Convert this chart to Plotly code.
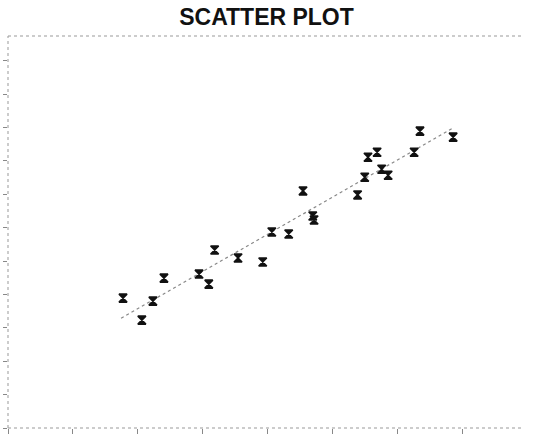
import numpy as np
import plotly.graph_objects as go

title_text = "SCATTER PLOT"
x_vals = [1.77, 2.06, 2.23, 2.40, 2.94, 3.09, 3.18, 3.54, 3.92, 4.06, 4.32, 4.54,
          4.69, 4.71, 5.38, 5.49, 5.54, 5.68, 5.75, 5.85, 6.25, 6.34, 6.85]
y_vals = [3.89, 3.23, 3.80, 4.49, 4.61, 4.31, 5.33, 5.09, 4.97, 5.87, 5.81, 7.10,
          6.35, 6.23, 6.98, 7.51, 8.11, 8.26, 7.75, 7.57, 8.26, 8.89, 8.71]
x_ticks = [0, 1, 2, 3, 4, 5, 6, 7]
y_ticks = list(range(0, 12))

slope, intercept = np.polyfit(x_vals, y_vals, 1)
fit_x = [min(x_vals) - 0.03, max(x_vals)]
fit_y = [slope * v + intercept for v in fit_x]

fig = go.Figure()
fig.add_trace(go.Scatter(x=fit_x, y=fit_y, mode="lines",
                         line=dict(color="#888888", width=1.2, dash="dot"),
                         showlegend=False, hoverinfo="skip"))
fig.add_trace(go.Scatter(x=x_vals, y=y_vals, mode="markers",
                         marker=dict(symbol="hourglass", size=8, color="#111111",
                                     line=dict(width=1.6, color="#111111")),
                         showlegend=False))

dot = dict(color="#999999", width=1, dash="dot")
fig.add_shape(type="line", xref="paper", yref="paper", x0=0, x1=1, y0=1, y1=1, line=dot)
fig.add_shape(type="line", xref="paper", yref="paper", x0=0, x1=1, y0=0, y1=0, line=dot)
fig.add_shape(type="line", xref="paper", yref="paper", x0=0, x1=0, y0=0, y1=1, line=dot)

fig.update_layout(
    width=533, height=437,
    margin=dict(l=8, r=11, t=36, b=9, autoexpand=False),
    paper_bgcolor="white", plot_bgcolor="white",
    title=dict(text="<b>" + title_text + "</b>", x=0.5, xanchor="center",
               y=1 - 17 / 437, yanchor="middle",
               font=dict(family="Liberation Sans, Arial", size=23, color="#111111")),
    xaxis=dict(range=[0, 7.91], tickvals=x_ticks, showticklabels=False,
               ticks="outside", ticklen=5, tickcolor="#888888", tickwidth=1,
               showgrid=False, zeroline=False, showline=False, automargin=False),
    yaxis=dict(range=[0, 11.74], tickvals=y_ticks, showticklabels=False,
               ticks="outside", ticklen=4, tickcolor="#888888", tickwidth=1,
               showgrid=False, zeroline=False, showline=False, automargin=False),
)

fig.write_html("out.html", config={"displayModeBar": False},
               post_script="document.body.style.margin='0';")
